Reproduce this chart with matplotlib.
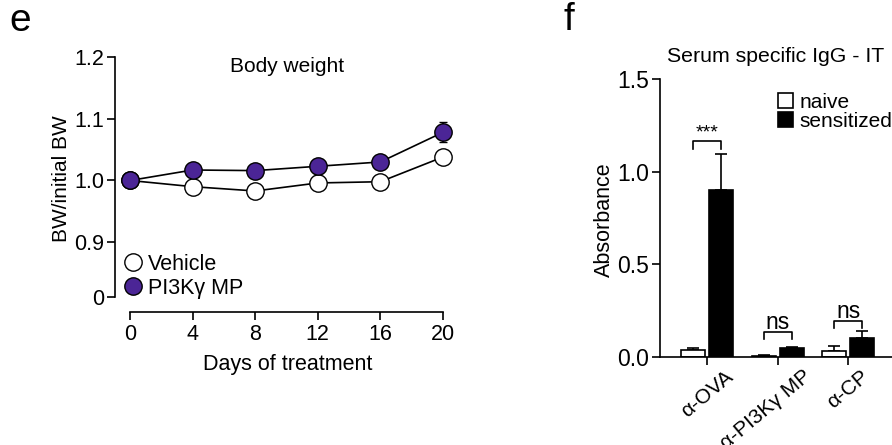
import numpy as np
import matplotlib.pyplot as plt
from matplotlib.lines import Line2D
from matplotlib.patches import Patch
from matplotlib.transforms import ScaledTranslation

plt.rcParams['font.family'] = ['Liberation Sans', 'DejaVu Sans']

# panel e: body weight
days = [0, 4, 8, 12, 16, 20]
vehicle = [1.0, 0.99, 0.983, 0.996, 0.998, 1.038]
vehicle_err = [0.0, 0.004, 0.004, 0.005, 0.004, 0.012]
pi3k = [1.0, 1.017, 1.016, 1.023, 1.03, 1.078]
pi3k_err = [0.0, 0.006, 0.01, 0.012, 0.01, 0.016]
bw_yticks = [0.812, 0.9, 1.0, 1.1, 1.2]
bw_ylabels = ['0', '0.9', '1.0', '1.1', '1.2']

# panel f: serum IgG
antigens = ['\u03b1-OVA', '\u03b1-PI3K\u03b3 MP', '\u03b1-CP']
naive = [0.038, 0.007, 0.034]
naive_err = [0.012, 0.002, 0.027]
sens = [0.90, 0.047, 0.10]
sens_err = [0.197, 0.008, 0.04]
sig_text = ['***', 'ns', 'ns']
sig_y = [1.164, 0.137, 0.195]

purple = '#4B2596'
fig = plt.figure(figsize=(8.92, 4.45), dpi=100)

ax = fig.add_axes([115/892, 133/445, 335/892, 255/445])
ax.errorbar(days, vehicle, yerr=vehicle_err, color='black', lw=1.2, capsize=3,
            marker='o', ms=12.5, mfc='white', mec='black', mew=1.0, zorder=3, clip_on=False)
ax.errorbar(days, pi3k, yerr=pi3k_err, color='black', lw=1.2, capsize=3,
            marker='o', ms=12.5, mfc=purple, mec='black', mew=1.0, zorder=4, clip_on=False)
ax.set_xlim(-0.96, 20.45)
ax.set_ylim(0.787, 1.2)
ax.set_yticks(bw_yticks)
ax.set_yticklabels(bw_ylabels)
ax.set_xticks(days)
for s in ['top', 'right']:
    ax.spines[s].set_visible(False)
ax.spines['left'].set_bounds(0.812, 1.2)
ax.spines['bottom'].set_bounds(0, 20)
for s in ['left', 'bottom']:
    ax.spines[s].set_linewidth(1.2)
ax.tick_params(width=1.2, length=6, labelsize=15.5, pad=2)
ax.tick_params(axis='x', pad=3)
ax.set_ylabel('BW/initial BW', fontsize=15)
ax.yaxis.set_label_coords(-0.131, 0.525)
ax.set_xlabel('Days of treatment', fontsize=15.5)
ax.xaxis.set_label_coords(0.515, -0.165)
ax.text(0.515, 1.0, 'Body weight', transform=ax.transAxes, ha='center', va='top', fontsize=15)
handles = [Line2D([], [], ls='none', marker='o', ms=12.5, mfc='white', mec='black'),
           Line2D([], [], ls='none', marker='o', ms=12.5, mfc=purple, mec='black')]
ax.legend(handles, ['Vehicle', 'PI3K\u03b3 MP'], loc='lower left', bbox_to_anchor=(0.003, 0.018),
          frameon=False, fontsize=15.5, handlelength=0.8, handletextpad=0.3, labelspacing=0.15,
          borderaxespad=0)
fig.text(9/892, 1 - 21/445, 'e', fontsize=28, va='center', ha='left')

# panel f
bx = fig.add_axes([660/892, 88/445, 232/892, 278/445])
x = np.arange(len(antigens))
off, w = 0.2, 0.34
bx.bar(x - off, naive, w, color='white', edgecolor='black', lw=1.2, zorder=2)
bx.bar(x + off, sens, w, color='black', edgecolor='black', lw=1.2, zorder=2)
bx.errorbar(x - off, naive, yerr=[np.zeros(3), naive_err], fmt='none', ecolor='black',
            elinewidth=1.2, capsize=4, capthick=1.2, zorder=1)
bx.errorbar(x + off, sens, yerr=[np.zeros(3), sens_err], fmt='none', ecolor='black',
            elinewidth=1.2, capsize=4, capthick=1.2, zorder=1)
for i in range(3):
    y0 = sig_y[i]
    bx.plot([x[i] - off, x[i] - off, x[i] + off, x[i] + off],
            [y0 - 0.04, y0, y0, y0 - 0.04], color='black', lw=1.2, clip_on=False)
    if sig_text[i] == '***':
        bx.text(x[i], y0 + 0.0, sig_text[i], ha='center', va='bottom', fontsize=14)
    else:
        bx.text(x[i], y0 - 0.012, sig_text[i], ha='center', va='bottom', fontsize=16.5)
bx.set_xlim(-0.667, 2.62)
bx.set_ylim(0, 1.5)
bx.set_yticks([0.0, 0.5, 1.0, 1.5])
bx.set_yticklabels(['0.0', '0.5', '1.0', '1.5'])
bx.set_xticks(x)
for s in ['top', 'right']:
    bx.spines[s].set_visible(False)
for s in ['left', 'bottom']:
    bx.spines[s].set_linewidth(1.2)
bx.tick_params(axis='y', width=1.2, length=6, labelsize=16.5, pad=2)
bx.tick_params(axis='x', width=1.2, length=6, pad=1)
bx.set_xticklabels(antigens, rotation=40, ha='center', va='top', fontsize=15)
# the long label sits a bit left of its tick in the original
lbl = bx.get_xticklabels()[1]
lbl.set_transform(lbl.get_transform() + ScaledTranslation(-0.12, 0, fig.dpi_scale_trans))
bx.set_ylabel('Absorbance', fontsize=15.5)
bx.yaxis.set_label_coords(-0.194, 0.493)
bx.text(0.5, 1.045, 'Serum specific IgG - IT', transform=bx.transAxes, ha='center',
        va='bottom', fontsize=15.3, clip_on=False)
lh = [Patch(facecolor='white', edgecolor='black', lw=1.2),
      Patch(facecolor='black', edgecolor='black', lw=1.2)]
bx.legend(lh, ['naive', 'sensitized'], loc='upper left', bbox_to_anchor=(0.51, 0.95),
          frameon=False, fontsize=15, handlelength=0.7, handleheight=0.7, handletextpad=0.3,
          labelspacing=0.0, borderaxespad=0, borderpad=0)
fig.text(563/892, 1 - 20/445, 'f', fontsize=28, va='center', ha='left')

fig.savefig('out.png', dpi=100)
